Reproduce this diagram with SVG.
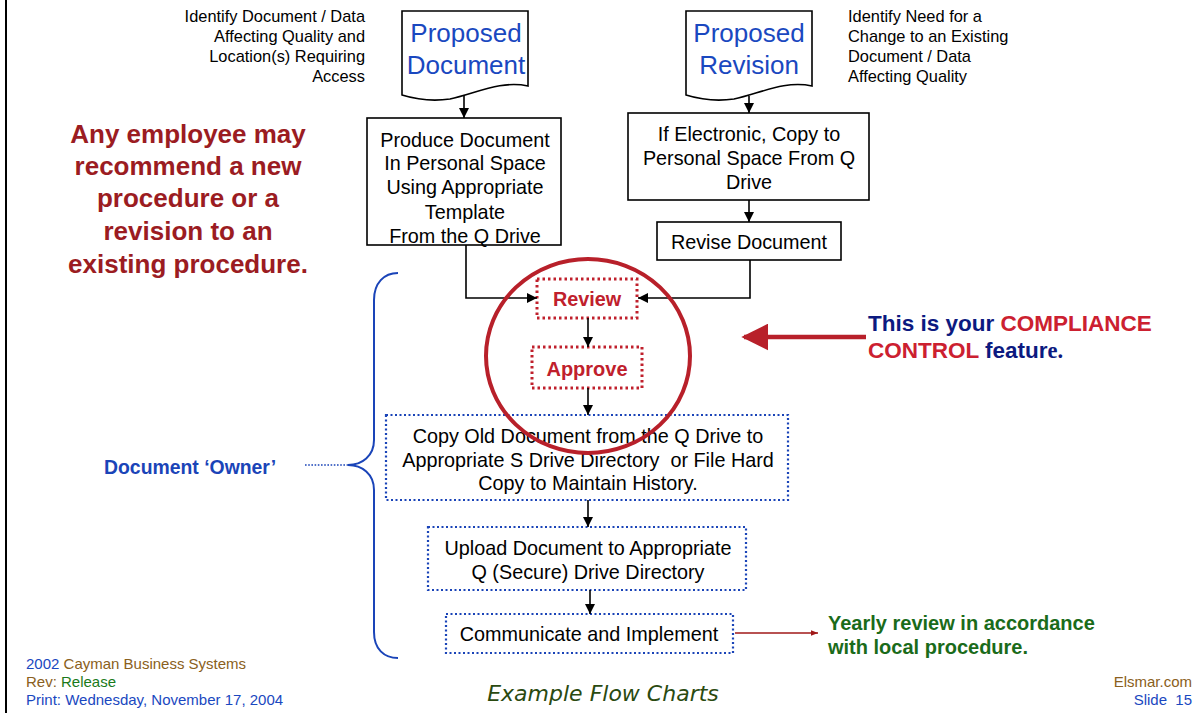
<svg xmlns="http://www.w3.org/2000/svg" width="1198" height="713" viewBox="0 0 1198 713">
<defs>
<style>
.t{font-family:"Liberation Sans",Arial,sans-serif;}
.box{fill:#fff;stroke:#000;stroke-width:1.6;}
.dr{fill:#fff;stroke:#c0202c;stroke-width:3;stroke-dasharray:2.5 3;}
.db{fill:#fff;stroke:#1a44b8;stroke-width:2.2;stroke-dasharray:2 2.5;}
.bt{font-size:19.8px;fill:#000;text-anchor:middle;}
.big{font-size:26px;fill:#1a48c0;text-anchor:middle;}
.sm{font-size:16.4px;fill:#000;}
.con{fill:none;stroke:#000;stroke-width:1.6;}
</style>
<marker id="ah" viewBox="0 0 10 10" refX="10" refY="5" markerWidth="10" markerHeight="10" markerUnits="userSpaceOnUse" orient="auto"><path d="M0,0 L10,5 L0,10 Z" fill="#000"/></marker>
<marker id="ahr" viewBox="0 0 10 10" refX="9" refY="5" markerWidth="6" markerHeight="6" orient="auto"><path d="M0,0 L10,5 L0,10 Z" fill="#b8202a"/></marker>
<marker id="ahd" viewBox="0 0 10 10" refX="10" refY="5" markerWidth="8" markerHeight="7" markerUnits="userSpaceOnUse" orient="auto"><path d="M0,1 L10,5 L0,9 Z" fill="#a01818"/></marker>
</defs>
<rect width="1198" height="713" fill="#fff"/>
<line x1="6" y1="0" x2="6" y2="713" stroke="#000" stroke-width="2"/>

<g id="note-left">
<text class="t sm" text-anchor="end" x="365" y="22">Identify Document / Data</text>
<text class="t sm" text-anchor="end" x="365" y="42">Affecting Quality and</text>
<text class="t sm" text-anchor="end" x="365" y="62">Location(s) Requiring</text>
<text class="t sm" text-anchor="end" x="365" y="82">Access</text>
</g>
<g id="note-right">
<text class="t sm" x="848" y="22">Identify Need for a</text>
<text class="t sm" x="848" y="42">Change to an Existing</text>
<text class="t sm" x="848" y="62">Document / Data</text>
<text class="t sm" x="848" y="82">Affecting Quality</text>
</g>

<g id="proposed-document">
<path class="box" d="M402,11 H528 V86 C500,80 475,94 450,99 C430,102 415,99 402,95 Z"/>
<text class="t big" x="466" y="42">Proposed</text>
<text class="t big" x="466" y="74">Document</text>
</g>
<g id="proposed-revision">
<path class="box" d="M686,11 H812 V86 C784,80 759,94 734,99 C714,102 699,99 686,95 Z"/>
<text class="t big" x="749" y="42">Proposed</text>
<text class="t big" x="749" y="74">Revision</text>
</g>

<g id="produce">
<rect class="box" x="367" y="118" width="194" height="127"/>
<text class="t bt" x="465" y="147">Produce Document</text>
<text class="t bt" x="465" y="170">In Personal Space</text>
<text class="t bt" x="465" y="194">Using Appropriate</text>
<text class="t bt" x="465" y="219">Template</text>
<text class="t bt" x="465" y="243">From the Q Drive</text>
</g>
<g id="copy-personal">
<rect class="box" x="628" y="113" width="241" height="87"/>
<text class="t bt" x="749" y="141">If Electronic, Copy to</text>
<text class="t bt" x="749" y="165">Personal Space From Q</text>
<text class="t bt" x="749" y="189">Drive</text>
</g>
<g id="revise">
<rect class="box" x="657" y="222" width="184" height="38"/>
<text class="t bt" x="749" y="249">Revise Document</text>
</g>

<g id="review">
<rect class="dr" x="537" y="279" width="100" height="39"/>
<text class="t" x="587" y="306" font-size="19.8" font-weight="bold" fill="#c0202c" text-anchor="middle">Review</text>
</g>
<g id="approve">
<rect class="dr" x="532" y="347" width="110" height="41"/>
<text class="t" x="587" y="376" font-size="20" font-weight="bold" fill="#c0202c" text-anchor="middle">Approve</text>
</g>

<g id="copy-old">
<rect class="db" x="386" y="415" width="402" height="85"/>
<text class="t bt" x="588" y="443">Copy Old Document from the Q Drive to</text>
<text class="t bt" x="588" y="467" xml:space="preserve">Appropriate S Drive Directory  or File Hard</text>
<text class="t bt" x="588" y="490">Copy to Maintain History.</text>
</g>
<g id="upload">
<rect class="db" x="428" y="527" width="318" height="63"/>
<text class="t bt" x="588" y="555">Upload Document to Appropriate</text>
<text class="t bt" x="588" y="579">Q (Secure) Drive Directory</text>
</g>
<g id="communicate">
<rect class="db" x="446" y="614" width="287" height="39"/>
<text class="t bt" x="589" y="641">Communicate and Implement</text>
</g>

<g id="connectors">
<line class="con" x1="464" y1="96" x2="464" y2="118" marker-end="url(#ah)"/>
<line class="con" x1="749" y1="96" x2="749" y2="113" marker-end="url(#ah)"/>
<line class="con" x1="749" y1="200" x2="749" y2="222" marker-end="url(#ah)"/>
<polyline class="con" points="466,245 466,298 537,298" marker-end="url(#ah)"/>
<polyline class="con" points="750,260 750,298 638,298" marker-end="url(#ah)"/>
<line class="con" x1="588" y1="318" x2="588" y2="347" marker-end="url(#ah)"/>
<line class="con" x1="588" y1="388" x2="588" y2="415" marker-end="url(#ah)"/>
<line class="con" x1="588" y1="500" x2="588" y2="527" marker-end="url(#ah)"/>
<line class="con" x1="590" y1="590" x2="590" y2="614" marker-end="url(#ah)"/>
<line x1="735" y1="633" x2="818" y2="633" stroke="#a01818" stroke-width="1.6" marker-end="url(#ahd)"/>
<line x1="866" y1="337" x2="744" y2="337" stroke="#b8202a" stroke-width="4.5" marker-end="url(#ahr)"/>
<line x1="305" y1="465" x2="348" y2="465" stroke="#1a44b8" stroke-width="1.6" stroke-dasharray="1.6 1.6"/>
<path d="M398,273 C384,273 374,283 374,300 V440 C374,456 362,465 348,465 C362,465 374,474 374,490 V632 C374,649 384,658 398,658" fill="none" stroke="#1a44b8" stroke-width="2"/>
</g>

<g id="compliance-ellipse">
<ellipse cx="588" cy="356" rx="102" ry="97" fill="none" stroke="#b8202a" stroke-width="4"/>
</g>

<g id="left-message">
<text class="t" x="188" y="143" font-size="26" font-weight="bold" fill="#9b1c22" text-anchor="middle">Any employee may</text>
<text class="t" x="188" y="175" font-size="26" font-weight="bold" fill="#9b1c22" text-anchor="middle">recommend a new</text>
<text class="t" x="188" y="207" font-size="26" font-weight="bold" fill="#9b1c22" text-anchor="middle">procedure or a</text>
<text class="t" x="188" y="240" font-size="26" font-weight="bold" fill="#9b1c22" text-anchor="middle">revision to an</text>
<text class="t" x="188" y="273" font-size="26" font-weight="bold" fill="#9b1c22" text-anchor="middle">existing procedure.</text>
</g>

<g id="compliance-note">
<text class="t" x="868" y="331" font-size="22.5" font-weight="bold" fill="#0c1a80">This is your <tspan fill="#cc2030">COMPLIANCE</tspan></text>
<text class="t" x="868" y="358" font-size="22.5" font-weight="bold" fill="#cc2030">CONTROL <tspan fill="#0c1a80">featur</tspan><tspan fill="#0c1a80" font-family="'Liberation Serif',serif">e.</tspan></text>
</g>

<g id="owner-label">
<text class="t" x="104" y="474" font-size="19.4" font-weight="bold" fill="#1a44b8">Document ‘Owner’</text>
</g>

<g id="yearly-note">
<text class="t" x="828" y="630" font-size="20" font-weight="bold" fill="#1a6b1a">Yearly review in accordance</text>
<text class="t" x="828" y="654" font-size="20" font-weight="bold" fill="#1a6b1a">with local procedure.</text>
</g>

<g id="footer">
<text class="t" x="26" y="669" font-size="15" fill="#1a48c0">2002 <tspan fill="#8a6020">Cayman Business Systems</tspan></text>
<text class="t" x="26" y="687" font-size="15" fill="#8a6020">Rev: <tspan fill="#1a7a1a">Release</tspan></text>
<text class="t" x="26" y="705" font-size="15" fill="#1a48c0">Print: Wednesday, November 17, 2004</text>
<text x="603" y="701" font-family="'DejaVu Sans',sans-serif" font-size="22" font-weight="200" fill="#2a4a10" text-anchor="middle" font-style="italic">Example Flow Charts</text>
<text class="t" x="1192" y="687" font-size="15" fill="#8a6020" text-anchor="end">Elsmar.com</text>
<text class="t" x="1192" y="705" font-size="15" fill="#1a48c0" text-anchor="end" xml:space="preserve">Slide  15</text>
</g>
</svg>
